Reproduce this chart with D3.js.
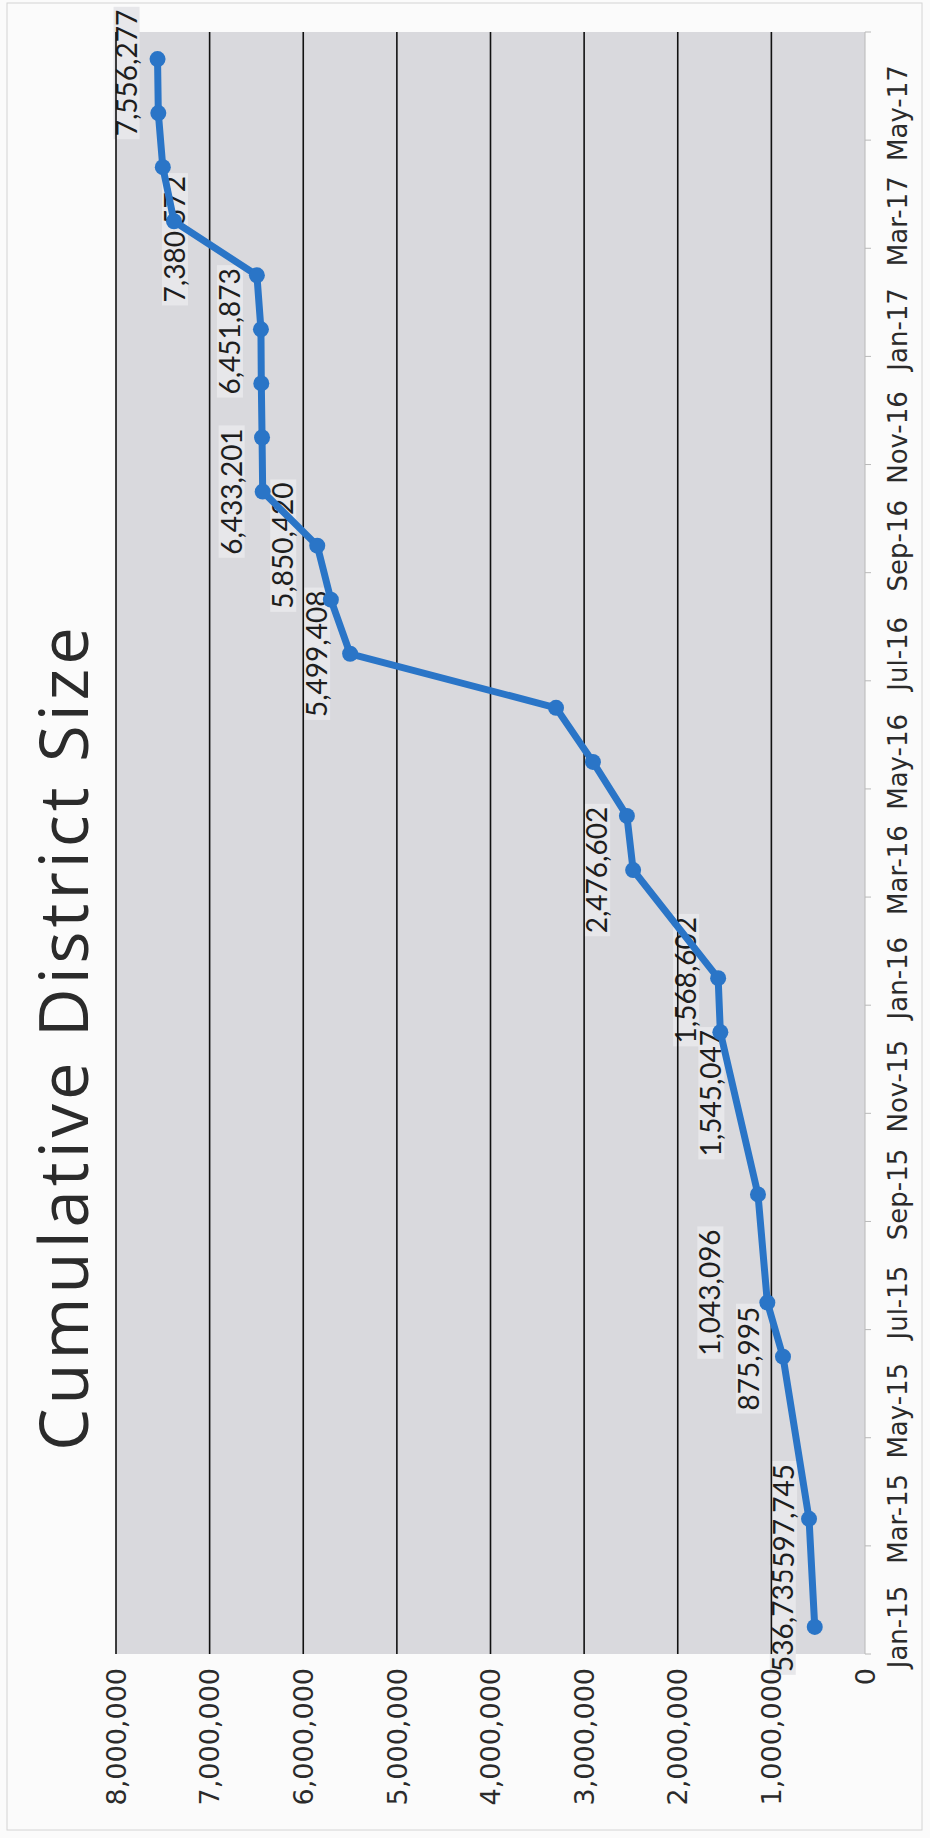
<!DOCTYPE html>
<html lang="en">
<head>
    <meta charset="UTF-8">
    <title>Cumulative District Size</title>
    <script src="https://cdnjs.cloudflare.com/ajax/libs/d3/7.8.5/d3.min.js"></script>
    <style>
        html, body { margin: 0; padding: 0; background: #fbfbfb; }
        svg { display: block; }
    </style>
</head>
<body>
<svg id="chart" width="930" height="1838"></svg>
<script>
    // every month on the category axis (Excel date axis, base unit = month)
    var axisMonths = [
        "Jan-15", "Feb-15", "Mar-15", "Apr-15", "May-15", "Jun-15", "Jul-15", "Aug-15", "Sep-15", "Oct-15", "Nov-15", "Dec-15",
        "Jan-16", "Feb-16", "Mar-16", "Apr-16", "May-16", "Jun-16", "Jul-16", "Aug-16", "Sep-16", "Oct-16", "Nov-16", "Dec-16",
        "Jan-17", "Feb-17", "Mar-17", "Apr-17", "May-17", "Jun-17"
    ];
    var xTickLabels = ["Jan-15", "Mar-15", "May-15", "Jul-15", "Sep-15", "Nov-15", "Jan-16", "Mar-16",
        "May-16", "Jul-16", "Sep-16", "Nov-16", "Jan-17", "Mar-17", "May-17"];
    var yTicks = [0, 1000000, 2000000, 3000000, 4000000, 5000000, 6000000, 7000000, 8000000];

    // the series
    var pointMonths = ["Jan-15", "Mar-15", "Jun-15", "Jul-15", "Sep-15", "Dec-15", "Jan-16", "Mar-16", "Apr-16",
        "May-16", "Jun-16", "Jul-16", "Aug-16", "Sep-16", "Oct-16", "Nov-16", "Dec-16", "Jan-17", "Feb-17",
        "Mar-17", "Apr-17", "May-17", "Jun-17"];
    var pointValues = [536735, 597745, 875995, 1043096, 1143000, 1545047, 1568602, 2476602, 2543000,
        2906000, 3300000, 5499408, 5705000, 5850420, 6433201, 6440000, 6448000, 6451873, 6495000,
        7380572, 7500000, 7548000, 7556277];

    // which points carry a data label
    var labelMonths = ["Jan-15", "Mar-15", "Jun-15", "Jul-15", "Dec-15", "Jan-16", "Mar-16",
        "Jul-16", "Sep-16", "Oct-16", "Jan-17", "Mar-17", "Jun-17"];
    // hand placed label offsets [along time, along value] in px (Excel labels were dragged around)
    var labelNudge = [[7, -32], [3, -25], [-2, -34], [10, -57], [-61, -9], [-2, -32], [0, -36],
        [0, -33], [0, -34], [0, -31], [-2, -31], [-18, 1], [-14, -31]];

    // the chart is a landscape Excel chart scanned sideways: draw it landscape, then turn it
    var W = 1838, H = 930;
    var svg = d3.select("#chart");

    svg.append("rect")
        .attr("width", 930).attr("height", 1838)
        .attr("fill", "#fbfbfb");
    svg.append("rect")
        .attr("x", 7).attr("y", 3).attr("width", 915).attr("height", 1827)
        .attr("fill", "none").attr("stroke", "#d4d4d4");

    var g = svg.append("g")
        .attr("transform", "translate(0," + W + ") rotate(-90)");

    var plot = {left: 184, right: 1806, top: 116, bottom: 865};

    var x = d3.scaleBand().domain(axisMonths).range([plot.left, plot.right]).padding(0);
    var bw = x.bandwidth();
    var y = d3.scaleLinear().domain([0, 8000000]).range([plot.bottom, plot.top]);
    var fmt = d3.format(",");

    // plot area
    g.append("rect")
        .attr("x", plot.left).attr("y", plot.top)
        .attr("width", plot.right - plot.left).attr("height", plot.bottom - plot.top)
        .attr("fill", "#d9d9dd");

    // title
    g.append("text")
        .attr("x", 801).attr("y", 88)
        .attr("text-anchor", "middle")
        .style("font-family", "'Open Sans', sans-serif")
        .style("font-size", "67px")
        .style("letter-spacing", "4px")
        .attr("fill", "#2b2b2b")
        .text("Cumulative District Size");

    var points = pointMonths.map(function (m, i) {
        return {m: m, v: pointValues[i]};
    });

    // data labels (drawn first: in the scan the grid and line run over them)
    var labelLayer = g.append("g");
    labelMonths.forEach(function (m, i) {
        var v = pointValues[pointMonths.indexOf(m)];
        var cx = x(m) + bw / 2 + labelNudge[i][0];
        var cy = y(v) + labelNudge[i][1];
        var lg = labelLayer.append("g");
        var box = lg.append("rect");
        var t = lg.append("text")
            .attr("x", cx).attr("y", cy)
            .attr("dy", "0.36em")
            .attr("text-anchor", "middle")
            .style("font-family", "Lato, 'Open Sans', sans-serif")
            .style("font-size", "28px")
            .attr("fill", "#1e1e1e")
            .text(fmt(v));
        var bb = t.node().getBBox();
        box.attr("x", bb.x - 3).attr("y", cy - 13)
            .attr("width", bb.width + 6).attr("height", 26)
            .attr("fill", "#e7e7ea");
    });

    // gridlines
    g.append("g")
        .selectAll("line")
        .data(yTicks.filter(function (d) { return d > 0; }))
        .enter()
        .append("line")
        .attr("x1", plot.left).attr("x2", plot.right)
        .attr("y1", function (d) { return y(d); })
        .attr("y2", function (d) { return y(d); })
        .attr("stroke", "#111")
        .attr("stroke-width", 1.6);

    // value axis labels
    g.append("g")
        .selectAll("text")
        .data(yTicks)
        .enter()
        .append("text")
        .attr("x", 170)
        .attr("y", function (d) { return y(d); })
        .attr("dy", "0.36em")
        .attr("text-anchor", "end")
        .style("font-family", "'DejaVu Sans', sans-serif")
        .style("font-size", "27px")
        .attr("fill", "#2b2b2b")
        .text(function (d) { return fmt(d); });

    // date axis: line, tick marks every two months, labels on the month slots
    g.append("line")
        .attr("x1", plot.left).attr("x2", plot.right)
        .attr("y1", plot.bottom).attr("y2", plot.bottom)
        .attr("stroke", "#b8b8b8").attr("stroke-width", 1);

    var tickMonths = axisMonths.filter(function (m, i) { return i % 2 === 0; });
    g.append("g")
        .selectAll("line")
        .data(tickMonths)
        .enter()
        .append("line")
        .attr("x1", function (d) { return x(d); })
        .attr("x2", function (d) { return x(d); })
        .attr("y1", plot.bottom).attr("y2", plot.bottom + 6)
        .attr("stroke", "#b8b8b8");
    g.append("line")
        .attr("x1", plot.right).attr("x2", plot.right)
        .attr("y1", plot.bottom).attr("y2", plot.bottom + 6)
        .attr("stroke", "#b8b8b8");

    g.append("g")
        .selectAll("text")
        .data(xTickLabels)
        .enter()
        .append("text")
        .attr("x", function (d) { return x(d) + bw / 2; })
        .attr("y", 907)
        .attr("text-anchor", "middle")
        .style("font-family", "'DejaVu Sans', sans-serif")
        .style("font-size", "26px")
        .attr("fill", "#2b2b2b")
        .text(function (d) { return d; });

    // the series
    var line = d3.line()
        .x(function (d) { return x(d.m) + bw / 2; })
        .y(function (d) { return y(d.v); });

    g.append("path")
        .datum(points)
        .attr("d", line)
        .attr("fill", "none")
        .attr("stroke", "#2a75c7")
        .attr("stroke-width", 7)
        .attr("stroke-linejoin", "round");

    g.append("g")
        .selectAll("circle")
        .data(points)
        .enter()
        .append("circle")
        .attr("cx", function (d) { return x(d.m) + bw / 2; })
        .attr("cy", function (d) { return y(d.v); })
        .attr("r", 8)
        .attr("fill", "#2a75c7");
</script>
</body>
</html>
